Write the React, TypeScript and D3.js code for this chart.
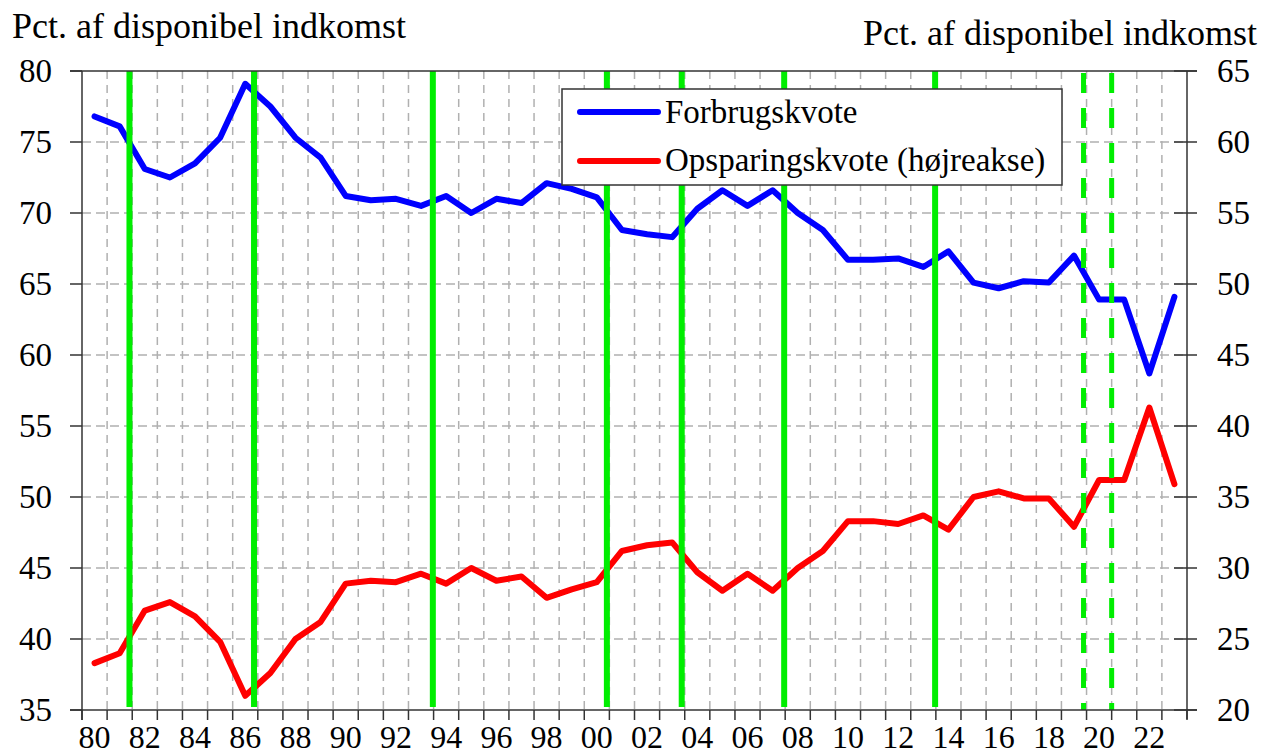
import React from "react";
import * as d3 from "d3";

const years: number[] = d3.range(1980, 2024);

// Forbrugskvote (left axis), pct. of disposable income
const forbrug: number[] = [
  76.8, 76.1, 73.1, 72.5, 73.5, 75.3, 79.1, 77.5, 75.3, 73.9,
  71.2, 70.9, 71.0, 70.5, 71.2, 70.0, 71.0, 70.7, 72.1, 71.7,
  71.1, 68.8, 68.5, 68.3, 70.3, 71.6, 70.5, 71.6, 70.0, 68.8,
  66.7, 66.7, 66.8, 66.2, 67.3, 65.1, 64.7, 65.2, 65.1, 67.0,
  63.9, 63.9, 58.7, 64.1,
];

// Opsparingskvote (right axis)
const opsparing: number[] = [
  23.3, 24.0, 27.0, 27.6, 26.6, 24.8, 21.0, 22.6, 25.0, 26.2,
  28.9, 29.1, 29.0, 29.6, 28.9, 30.0, 29.1, 29.4, 27.9, 28.5,
  29.0, 31.2, 31.6, 31.8, 29.7, 28.4, 29.6, 28.4, 30.0, 31.2,
  33.3, 33.3, 33.1, 33.7, 32.7, 35.0, 35.4, 34.9, 34.9, 32.9,
  36.2, 36.2, 41.3, 35.9,
];

const solidMarkers: number[] = [1981.89, 1986.85, 1993.97, 2000.9, 2003.88, 2007.96, 2013.97];
const dashedMarkers: number[] = [2019.88, 2021.0];

const leftTicks: number[] = [35, 40, 45, 50, 55, 60, 65, 70, 75, 80];
const rightTicks: number[] = [20, 25, 30, 35, 40, 45, 50, 55, 60, 65];
const labelYears: number[] = d3.range(1980, 2024, 2);

const seriesNames = ["Forbrugskvote", "Opsparingskvote (højreakse)"];
const axisTitle = "Pct. af disponibel indkomst";

const FONT = "'Liberation Serif', 'Times New Roman', serif";

export default function App() {
  const W = 1263;
  const H = 755;
  const left = 82;
  const right = 1187;
  const top = 71;
  const bottom = 710;

  const x = d3.scaleLinear().domain([1980, 2024]).range([left, right]);
  const yL = d3.scaleLinear().domain([35, 80]).range([bottom, top]);
  const yR = d3.scaleLinear().domain([20, 65]).range([bottom, top]);

  const lineL = d3
    .line<number>()
    .x((_, i) => x(years[i] + 0.5))
    .y((d) => yL(d));
  const lineR = d3
    .line<number>()
    .x((_, i) => x(years[i] + 0.5))
    .y((d) => yR(d));

  const boundaries = d3.range(1980, 2025);
  const grid = "#b0b0b0";

  return (
    <svg
      width={W}
      height={H}
      style={{ position: "absolute", left: 0, top: 0, background: "#fff" }}
      fontFamily={FONT}
    >
      <rect x={0} y={0} width={W} height={H} fill="#fff" />
      {/* vertical grid */}
      {boundaries.slice(1, -1).map((yr) => (
        <line
          key={"vg" + yr}
          x1={x(yr)}
          x2={x(yr)}
          y1={top}
          y2={bottom}
          stroke={grid}
          strokeWidth={1.5}
          strokeDasharray="8,6"
        />
      ))}
      {/* horizontal grid */}
      {leftTicks.slice(1, -1).map((t) => (
        <line
          key={"hg" + t}
          x1={left}
          x2={right}
          y1={yL(t)}
          y2={yL(t)}
          stroke={grid}
          strokeWidth={1.5}
          strokeDasharray="9,5"
        />
      ))}

      {/* data lines */}
      <path
        d={lineL(forbrug) || ""}
        fill="none"
        stroke="#0000ff"
        strokeWidth={6}
        strokeLinejoin="round"
        strokeLinecap="round"
      />
      <path
        d={lineR(opsparing) || ""}
        fill="none"
        stroke="#ff0000"
        strokeWidth={6}
        strokeLinejoin="round"
        strokeLinecap="round"
      />

      {/* green markers */}
      {solidMarkers.map((m) => (
        <line
          key={"sm" + m}
          x1={x(m)}
          x2={x(m)}
          y1={top}
          y2={bottom - 3}
          stroke="#00ee00"
          strokeWidth={6}
        />
      ))}
      {dashedMarkers.map((m) => (
        <line
          key={"dm" + m}
          x1={x(m)}
          x2={x(m)}
          y1={top + 2}
          y2={bottom}
          stroke="#00ee00"
          strokeWidth={5}
          strokeDasharray="20,15"
        />
      ))}

      {/* frame */}
      <line x1={70} x2={1197} y1={top} y2={top} stroke="#333" strokeWidth={1.5} />
      <line x1={70} x2={1197} y1={bottom} y2={bottom} stroke="#333" strokeWidth={1.5} />
      <line x1={left} x2={left} y1={top} y2={bottom + 10} stroke="#333" strokeWidth={1.5} />
      <line x1={right} x2={right} y1={top} y2={bottom + 9} stroke="#333" strokeWidth={1.5} />

      {/* x ticks */}
      {boundaries.map((yr) => (
        <line
          key={"xt" + yr}
          x1={x(yr)}
          x2={x(yr)}
          y1={bottom}
          y2={bottom + 10}
          stroke="#333"
          strokeWidth={1.5}
        />
      ))}
      {labelYears.map((yr) => (
        <text
          key={"xl" + yr}
          x={x(yr + 0.5)}
          y={748}
          fontSize={32}
          textAnchor="middle"
          fill="#000"
        >
          {String(yr % 100).padStart(2, "0")}
        </text>
      ))}

      {/* left axis */}
      {leftTicks.map((t) => (
        <g key={"lt" + t}>
          <line x1={70} x2={left} y1={yL(t)} y2={yL(t)} stroke="#333" strokeWidth={1.5} />
          <text x={52} y={yL(t) + 11} fontSize={33} textAnchor="end" fill="#000">
            {t}
          </text>
        </g>
      ))}
      {/* right axis */}
      {rightTicks.map((t) => (
        <g key={"rt" + t}>
          <line x1={1174} x2={1197} y1={yR(t)} y2={yR(t)} stroke="#333" strokeWidth={1.5} />
          <text x={1217} y={yR(t) + 11} fontSize={33} textAnchor="start" fill="#000">
            {t}
          </text>
        </g>
      ))}

      {/* axis titles */}
      <text x={12} y={38} fontSize={36} fill="#000">
        {axisTitle}
      </text>
      <text x={1257} y={45} fontSize={36} textAnchor="end" fill="#000">
        {axisTitle}
      </text>

      {/* legend */}
      <rect x={562} y={89} width={500} height={96} fill="#fff" stroke="#333" strokeWidth={1.5} />
      <line x1={580} x2={658} y1={112} y2={112} stroke="#0000ff" strokeWidth={6} strokeLinecap="round" />
      <line x1={580} x2={658} y1={161} y2={161} stroke="#ff0000" strokeWidth={6} strokeLinecap="round" />
      <text x={665} y={123} fontSize={33} fill="#000">
        {seriesNames[0]}
      </text>
      <text x={665} y={171} fontSize={33} fill="#000">
        {seriesNames[1]}
      </text>
    </svg>
  );
}
